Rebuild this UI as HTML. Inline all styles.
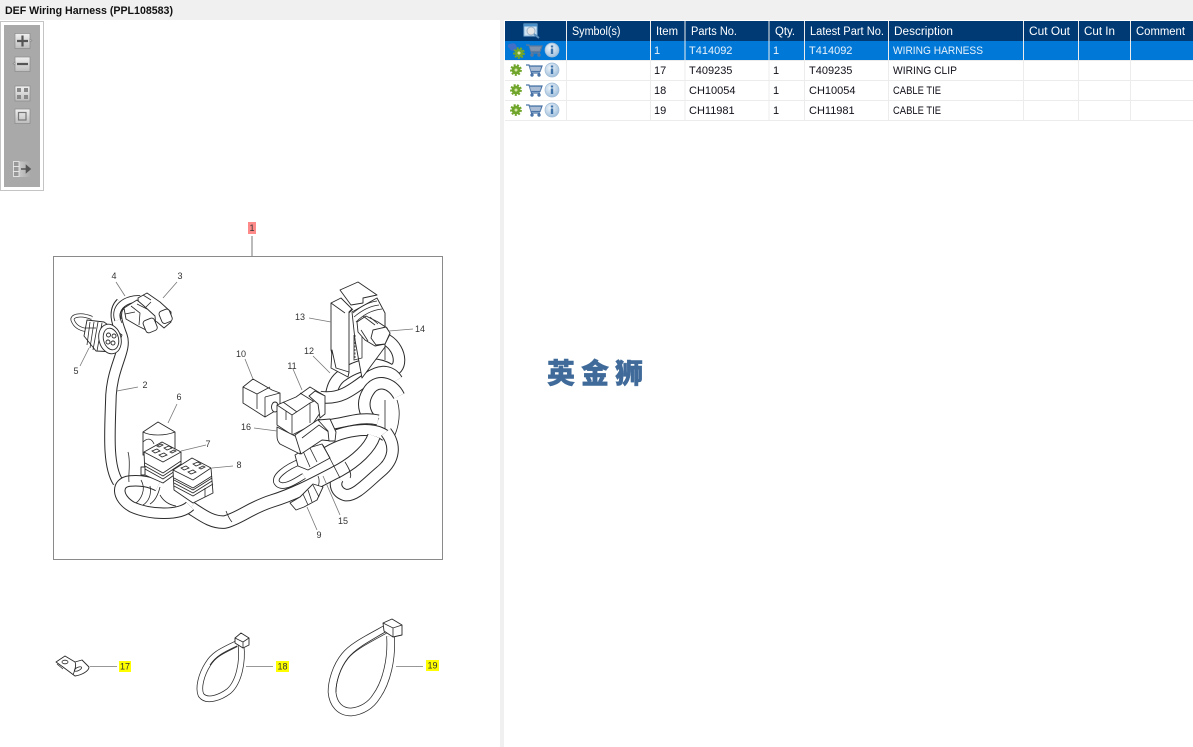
<!DOCTYPE html>
<html><head><meta charset="utf-8"><title>DEF Wiring Harness</title>
<style>
html,body{margin:0;padding:0;background:#fff;width:1193px;height:747px;overflow:hidden}
svg{display:block;position:absolute;left:0;top:0}
.t{font-family:"Liberation Sans",sans-serif;font-size:11px;fill:#10101a}
.h{font-family:"Liberation Sans",sans-serif;font-size:11.5px;fill:#fff}
.w{fill:#e8f2fb}
.n{font-family:"Liberation Sans",sans-serif;font-size:9px;fill:#333;text-anchor:middle}
.o{fill:none;stroke:#2a2a2a;stroke-linejoin:round;stroke-linecap:butt}
.i{fill:none;stroke:#fff;stroke-linejoin:round;stroke-linecap:butt}
.s{fill:#fff;stroke:#2a2a2a;stroke-width:.9;stroke-linejoin:round}
.l{fill:none;stroke:#2a2a2a;stroke-width:.8}
.g{fill:none;stroke:#777;stroke-width:.8}
.soft{filter:blur(.3px)}
</style></head><body>
<svg width="1193" height="747" viewBox="0 0 1193 747" xmlns="http://www.w3.org/2000/svg">
<defs>
<linearGradient id="bt" x1="0" y1="0" x2="0" y2="1"><stop offset="0" stop-color="#f0f0f0"/><stop offset="1" stop-color="#bdbdbd"/></linearGradient>
<linearGradient id="fd" x1="0" y1="0" x2="1" y2="0"><stop offset="0" stop-color="#d8d8d8"/><stop offset="1" stop-color="#a9a9a9"/></linearGradient>
<radialGradient id="ib" cx=".4" cy=".35" r=".8"><stop offset="0" stop-color="#f2f7fb"/><stop offset="1" stop-color="#8fb4d6"/></radialGradient>
<g id="gear"><circle r="4.400" fill="#6fa52a"/><circle r="5" fill="none" stroke="#6fa52a" stroke-width="1.800" stroke-dasharray="2 1.500"/><circle r="1.500" fill="#d4e6a8"/></g>
<g id="cart" fill="none" stroke="#4a74a8" stroke-width="1.200"><path d="M-8 -5H-5L-2.500 3H6"/><path d="M-4.500 -4H8L6 1.500H-3" fill="#8fa9c8"/><path d="M-3.500 -2H7M-3 0H6.500" stroke="#fff" stroke-width=".6"/><circle cx="-2" cy="5" r="1.100" fill="#4a74a8"/><circle cx="5" cy="5" r="1.100" fill="#4a74a8"/></g>
<g id="info"><circle r="7" fill="url(#ib)" stroke="#9dbad6" stroke-width=".7"/><rect x="-1.200" y="-1.500" width="2.400" height="5.500" fill="#3f74ab"/><rect x="-1.200" y="-4.500" width="2.400" height="2" fill="#3f74ab"/></g>
</defs>

<!-- chrome -->
<rect x="0" y="0" width="1193" height="20" fill="#f0f0f0"/>
<rect x="500" y="20" width="4" height="727" fill="#f0f0f0"/>
<text x="5" y="14" font-family="Liberation Sans,sans-serif" font-size="11" font-weight="bold" fill="#111" textLength="168" lengthAdjust="spacingAndGlyphs">DEF Wiring Harness (PPL108583)</text>

<!-- toolbar -->
<rect x="0.500" y="21.500" width="43" height="169" fill="#fff" stroke="#c4c4c4"/>
<rect x="4" y="25" width="36" height="162" fill="#a9a9a9"/>
<g stroke="#8a8a8a" stroke-width=".7" fill="url(#bt)">
<rect x="15" y="33.500" width="15" height="15"/><path d="M30 39l2 1.500-2 1.500z"/>
<rect x="15" y="57" width="15" height="14.500"/><path d="M15 62l-2 1.500 2 1.500z"/>
<rect x="15" y="86" width="15" height="15"/>
<rect x="15" y="109" width="15" height="14.500"/>
</g>
<path d="M17 41h11M22.500 35.500v11" stroke="#555" stroke-width="2.200" fill="none"/>
<path d="M17 64h11" stroke="#555" stroke-width="2.200" fill="none"/>
<g fill="#888"><rect x="17" y="88" width="4" height="4"/><rect x="24" y="88" width="4" height="4"/><rect x="17" y="95" width="4" height="4"/><rect x="24" y="95" width="4" height="4"/></g>
<rect x="18.500" y="112.500" width="7.500" height="7.500" fill="none" stroke="#777" stroke-width="1.200"/>
<rect x="13.500" y="161.500" width="17" height="15.500" fill="url(#fd)" stroke="none"/>
<g stroke="#eee" fill="#999" stroke-width=".8"><rect x="13.500" y="161.500" width="5.500" height="5"/><rect x="13.500" y="166.500" width="5.500" height="5"/><rect x="13.500" y="171.500" width="5.500" height="5"/></g>
<path d="M21 169h6M26.500 166l3.500 3-3.500 3z" stroke="#555" stroke-width="1.600" fill="#555"/>

<!-- table -->
<rect x="505" y="21" width="688" height="20" fill="#003a75"/>
<rect x="505" y="41" width="688" height="19" fill="#0078d7"/>
<path d="M505 60.500H1193M505 80.500H1193M505 100.500H1193M505 120.500H1193" stroke="#ececec" fill="none"/>
<path d="M566.500 21V120M650.500 21V120M685 21V120M769 21V120M804.500 21V120M888.500 21V120M1023.500 21V120M1078.500 21V120M1130.500 21V120" stroke="#ececec" fill="none"/>
<g>
<text class="h" x="572" y="35" textLength="48.500" lengthAdjust="spacingAndGlyphs">Symbol(s)</text>
<text class="h" x="656" y="35" textLength="22" lengthAdjust="spacingAndGlyphs">Item</text>
<text class="h" x="691" y="35" textLength="46" lengthAdjust="spacingAndGlyphs">Parts No.</text>
<text class="h" x="775" y="35" textLength="20" lengthAdjust="spacingAndGlyphs">Qty.</text>
<text class="h" x="810" y="35" textLength="74" lengthAdjust="spacingAndGlyphs">Latest Part No.</text>
<text class="h" x="894" y="35" textLength="59" lengthAdjust="spacingAndGlyphs">Description</text>
<text class="h" x="1029" y="35" textLength="41" lengthAdjust="spacingAndGlyphs">Cut Out</text>
<text class="h" x="1084" y="35" textLength="31" lengthAdjust="spacingAndGlyphs">Cut In</text>
<text class="h" x="1136" y="35" textLength="49" lengthAdjust="spacingAndGlyphs">Comment</text>
</g>
<g>
<rect x="524" y="24" width="13" height="12" fill="#cfe3f3" stroke="#7fb0d8"/><rect x="524" y="24" width="13" height="2.500" fill="#4a90c8"/>
<circle cx="531" cy="31" r="4" fill="#e5e5e5" stroke="#9fb5c8"/><path d="M534 34l5 4" stroke="#5d8fbd" stroke-width="1.800"/>
</g>
<!-- row text -->
<g>
<text class="t w" x="654" y="54">1</text><text class="t w" x="689" y="54">T414092</text><text class="t w" x="773" y="54">1</text><text class="t w" x="809" y="54">T414092</text><text class="t w" x="893" y="54" textLength="90" lengthAdjust="spacingAndGlyphs">WIRING HARNESS</text>
<text class="t" x="654" y="74">17</text><text class="t" x="689" y="74">T409235</text><text class="t" x="773" y="74">1</text><text class="t" x="809" y="74">T409235</text><text class="t" x="893" y="74" textLength="64" lengthAdjust="spacingAndGlyphs">WIRING CLIP</text>
<text class="t" x="654" y="94">18</text><text class="t" x="689" y="94">CH10054</text><text class="t" x="773" y="94">1</text><text class="t" x="809" y="94">CH10054</text><text class="t" x="893" y="94" textLength="48" lengthAdjust="spacingAndGlyphs">CABLE TIE</text>
<text class="t" x="654" y="114">19</text><text class="t" x="689" y="114">CH11981</text><text class="t" x="773" y="114">1</text><text class="t" x="809" y="114">CH11981</text><text class="t" x="893" y="114" textLength="48" lengthAdjust="spacingAndGlyphs">CABLE TIE</text>
</g>
<!-- row icons -->
<circle cx="513" cy="47" r="3.800" fill="#3f6fc8"/><circle cx="510" cy="46" r="2.200" fill="#3f6fc8"/><use href="#gear" x="519" y="53"/>
<g transform="translate(534 50)" fill="none" stroke="#5f7a9c" stroke-width="1.200"><path d="M-8 -5H-5L-2.500 3H6"/><path d="M-4.500 -4H8L6 1.500H-3" fill="#7f93ad"/><circle cx="-2" cy="5" r="1.100" fill="#44597a"/><circle cx="5" cy="5" r="1.100" fill="#44597a"/></g>
<use href="#info" x="552" y="50"/>
<use href="#gear" x="516" y="70"/><use href="#cart" x="534" y="70"/><use href="#info" x="552" y="70"/>
<use href="#gear" x="516" y="90"/><use href="#cart" x="534" y="90"/><use href="#info" x="552" y="90"/>
<use href="#gear" x="516" y="110"/><use href="#cart" x="534" y="110"/><use href="#info" x="552" y="110"/>

<!-- watermark -->
<text x="547" y="383" font-family="Liberation Sans,Noto Sans CJK SC,sans-serif" font-size="28" font-weight="900" fill="#3f6a99" stroke="#3f6a99" stroke-width=".4" letter-spacing="6">英金狮</text>

<!-- diagram frame -->
<rect x="53.500" y="256.500" width="389" height="303" fill="#fff" stroke="#8a8a8a"/>
<path d="M252 236V256" stroke="#777" fill="none"/>
<rect x="248" y="222" width="8" height="12" fill="#ff8a8a"/>
<text class="n" x="252" y="231" fill="#222">1</text>

<g class="soft">
<!-- back tubes -->
<path class="o" stroke-width="11.500" d="M121 303C112 312 118 325 122 336C127 350 113 365 111 395C110 430 107 465 118 482"/>
<path class="i" stroke-width="9.500" d="M121 303C112 312 118 325 122 336C127 350 113 365 111 395C110 430 107 465 118 482"/>
<path class="o" stroke-width="7.500" d="M118 320C113 306 128 298 140 299"/><path class="i" stroke-width="5.800" d="M118 320C113 306 128 298 140 299"/>
<path class="l" d="M122 323C118 315 120 311 124 309"/>
<path class="o" stroke-width="4" d="M92 318C80 313 70 316 73 321C75 326 80 329 86 330"/><path class="i" stroke-width="2.500" d="M92 318C80 313 70 316 73 321C75 326 80 329 86 330"/>

<!-- right-hand upper tangle -->
<path class="l" d="M385 313V360M385 400V440M397 400C402 415 398 435 388 445"/>
<path class="o" stroke-width="12.500" d="M387 340C403 350 402 372 390 370C378 362 360 362 340 377C332 384 332 392 330 400"/><path class="i" stroke-width="10.500" d="M387 340C403 350 402 372 390 370C378 362 360 362 340 377C332 384 332 392 330 400"/>
<path class="o" stroke-width="12.500" d="M320 397C340 400 352 390 368 378C382 368 392 372 397 380"/><path class="i" stroke-width="10.500" d="M320 397C340 400 352 390 368 378C382 368 392 372 397 380"/>
<path class="o" stroke-width="12.500" d="M399 396C392 382 376 378 368 392C360 405 366 418 376 424"/><path class="i" stroke-width="10.500" d="M399 396C392 382 376 378 368 392C360 405 366 418 376 424"/>
<path class="o" stroke-width="11" d="M320 425C338 426 358 415 378 420"/><path class="i" stroke-width="9" d="M320 425C338 426 358 415 378 420"/>
<path class="o" stroke-width="12" d="M318 445C340 430 372 425 386 436"/><path class="i" stroke-width="10" d="M318 445C340 430 372 425 386 436"/>
<path class="o" stroke-width="12.500" d="M386 432C396 445 395 460 380 472C368 482 355 497 345 495C336 492 334 484 338 478"/><path class="i" stroke-width="10.500" d="M386 432C396 445 395 460 380 472C368 482 355 497 345 495C336 492 334 484 338 478"/>

<!-- main cable -->
<path class="o" stroke-width="13.500" d="M191 508C202 515 212 523 225 522C240 518 250 508 272 501C295 494 315 483 340 470C356 461 370 448 374 436"/>
<path class="i" stroke-width="11.500" d="M191 508C202 515 212 523 225 522C240 518 250 508 272 501C295 494 315 483 340 470C356 461 370 448 374 436"/>
<path class="l" d="M226 511C228 516 230 520 232 522M318 476C320 480 319 486 317 488M345 462C350 470 352 475 350 478"/>
<!-- small loop -->
<path class="o" stroke-width="6.500" d="M302 461C286 467 271 478 278 484C284 489 296 481 304 476"/><path class="i" stroke-width="4.800" d="M302 461C286 467 271 478 278 484C284 489 296 481 304 476"/>
<path class="s" d="M295 455L305 449L322 444L330 458L308 470L298 466Z"/><path class="l" d="M303 451L310 467M310 448L317 462M323 445L340 478"/>

<!-- bottom-left loop -->
<path class="o" stroke-width="11.500" d="M190 506C180 516 150 515 132 507C116 498 116 482 130 481C142 480 150 482 158 486"/>
<path class="i" stroke-width="9.500" d="M190 506C180 516 150 515 132 507C116 498 116 482 130 481C142 480 150 482 158 486"/>
<path class="l" d="M141 480C147 490 140 500 136 503M150 486C152 495 148 502 143 505M128 452C131 462 128 475 129 482M160 487C158 495 155 501 150 504M160 495C164 502 170 505 176 506"/>

<!-- relay 6 -->
<path class="s" d="M143 432L158 422L175 432V455H143Z"/><path class="l" d="M143 432C150 436 165 436 175 432M143 442C148 437 152 439 154 444"/>
<!-- relay 7 -->
<path class="s" d="M144 452L162 442L181 452V470L163 483L145 475Z"/>
<path class="l" d="M144 452L163 462L181 452M145 463L163 473L181 461M145 466L163 476L181 464M145 469L163 479L181 467"/>
<g class="l"><path d="M152 451l5 -2 3 2 -5 2zM159 455l5 -2 3 2 -5 2zM164 448l5 -2 3 2 -5 2zM170 452l4 -2 2 1 -4 2zM157 446l4 -2 2 1 -4 2z"/></g>
<rect x="141" y="467" width="4" height="8" class="s"/>
<!-- relay 8 -->
<path class="s" d="M173 470L192 458L211 468L213 493L193 503L174 490Z"/>
<path class="l" d="M173 470L193 480L211 468M174 480L193 490L212 478M174 483L193 493L212 481M174 486L193 496L213 484M174 478L193 488L212 476M205 488V497"/>
<g class="l"><path d="M181 468l5 -2 3 2 -5 2zM188 472l5 -2 3 2 -5 2zM193 464l5 -2 3 2 -5 2zM199 468l4 -2 2 1 -4 2z"/></g>

<!-- connector 9 -->
<path class="s" d="M290 503L296 510L304 507L317 500L323 487L313 484L300 497Z"/><path class="l" d="M303 494L308 505M308 490L312 502M313 485L319 497"/>

<!-- connector 5 -->
<path class="s" d="M87 320L104 322L122 335L116 352L96 351L84 336Z"/>
<path class="l" d="M90 322L87 345M94 322L90 348M98 322L93 350M102 323L97 351M85 328L96 328"/>
<ellipse cx="110" cy="339" rx="11" ry="15" transform="rotate(-15 110 339)" class="s"/>
<ellipse cx="111" cy="339" rx="7.500" ry="11" transform="rotate(-15 111 339)" class="s"/>
<g class="s"><circle cx="108.500" cy="335" r="2"/><circle cx="114" cy="336" r="2"/><circle cx="108" cy="342" r="2"/><circle cx="113" cy="343" r="2"/></g>

<!-- connectors 3/4 -->
<path class="s" d="M138 298L147 293L160 302L171 312L171 322L164 328L157 322L139 312Z"/>
<rect x="160" y="310" width="11" height="13" rx="3" transform="rotate(-22 165 316)" class="s"/>
<path class="l" d="M143 295L151 300M151 302L146 307"/>
<path class="s" d="M124 308L137 300L144 306L155 316L156 328L150 332L138 326L126 319Z"/>
<rect x="144" y="319" width="12" height="13" rx="3" transform="rotate(-22 150 325)" class="s"/>
<path class="l" d="M131 306L140 313L139 325M125 314L135 312M137 304L147 309"/>

<!-- bracket 13 -->
<path class="s" d="M377 298L385 313V347L362 378L355 340L352 312Z"/>
<path class="s" d="M340 290L358 282L377 295L363 298L363 303L351 305Z"/>
<path class="l" d="M353 313C360 307 368 302 377 301M354 317C361 311 370 306 379 305M356 322C363 315 372 310 382 309"/>
<path class="s" d="M331 303L341 298L352 309L349 312V373L336 370L331 350Z"/>
<path class="l" d="M331 303L345 313M349 313L353 309M354 335V360L362 358V335"/>
<path class="l" stroke-dasharray="2 1.500" d="M355 335V360"/>
<path class="s" d="M332 350L331 368L348 377L349 372L336 368Z"/>
<!-- connector 14 -->
<path class="s" d="M357 322L366 316L378 322L387 328L390 334L385 344L375 346L365 340L358 332Z"/>
<path class="s" d="M373 330L386 327L390 333L385 344L376 345L371 338Z"/>
<path class="l" d="M363 316L375 325M370 317L378 324M361 330L368 341"/>

<!-- connector 10 -->
<path class="s" d="M243 387L253 379L272 390L280 393V408L265 417L243 403Z"/>
<path class="l" d="M243 387L257 394L270 387M257 394V409M265 397V417M265 397L280 393"/>
<ellipse cx="275" cy="407" rx="3.500" ry="5" class="s"/>
<!-- connector 11 -->
<path class="s" d="M277 405L296 397L310 387L325 396L322 410L312 425L292 435L277 425Z"/>
<path class="l" d="M277 405L292 415L310 403L325 396M292 415V435M310 403V423M283 402L297 412M300 393L313 401M286 411V420"/>
<path class="s" d="M315 391L325 396V414L320 418L318 404L309 396Z"/>
<!-- connector 16 -->
<path class="s" d="M277 427L295 436L302 438L300 454L280 444C278 442 277 440 277 436Z"/>
<path class="s" d="M295 435L319 419L333 431L332 441L322 440L301 454Z"/>
<path class="l" d="M302 438L319 425L330 433"/>
<path class="s" d="M318 420L330 419L336 432L335 441L329 441L328 431Z"/>

<!-- leaders -->
<g class="g">
<path d="M177 282L163 298M116 282L125 296M80 366L89 348M138 387L117 391M177 404L168 423M206 445L181 451M233 466L212 468M317 530L307 507M245 359L253 379M293 369L302 390M313 356L330 373M309 318L331 322M413 329L389 331M340 515L323 476M254 428L277 431"/>
</g>

<!-- part 17 -->
<path class="s" d="M56 662L65 656L75 662L82 660L89 667C89 671 82 675 75 676L63 667Z"/>
<ellipse cx="65" cy="662" rx="3" ry="1.800" class="l"/><ellipse cx="78" cy="669" rx="4" ry="1.600" transform="rotate(-25 78 669)" class="l"/>
<path class="l" d="M57 664L63 669M75 662C77 666 74 672 73 675"/>
<path class="g" d="M90 666.500H117M246 666.500H273M396 666.500H423"/>

<!-- part 18 -->
<path class="o" stroke-width="6.500" d="M236 644C222 651 214 654 208 664C201 675 198 688 201 695C207 703 221 697 229 691C239 682 243 662 241 645"/>
<path class="i" stroke-width="5" d="M236 644C222 651 214 654 208 664C201 675 198 688 201 695C207 703 221 697 229 691C239 682 243 662 241 645"/>
<path class="l" stroke-width=".5" d="M237 646C224 652 216 656 210 665"/>
<path class="s" d="M235 638L241 633L249 638V645L243 648L235 643Z"/><path class="l" d="M235 638L243 642L249 638M243 642V648"/>

<!-- part 19 -->
<path class="o" stroke-width="8.500" d="M386 629C366 640 352 647 345 656C336 667 332 682 332 692C333 704 340 712 351 712C362 711 371 705 376 697C387 682 392 658 390.500 636"/>
<path class="i" stroke-width="7" d="M386 629C366 640 352 647 345 656C336 667 332 682 332 692C333 704 340 712 351 712C362 711 371 705 376 697C387 682 392 658 390.500 636"/>
<path class="l" stroke-width=".5" d="M387 631C368 642 355 649 348 658C340 668 336 682 336 692"/>
<path class="s" d="M383 623L392 619L402 625V635L393 637L384 631Z"/><path class="l" d="M383 623L393 628L402 625M393 628V637"/>
</g>

<g>
<text class="n" x="180" y="279">3</text><text class="n" x="114" y="279">4</text><text class="n" x="76" y="374">5</text><text class="n" x="145" y="388">2</text><text class="n" x="179" y="400">6</text><text class="n" x="208" y="447">7</text><text class="n" x="239" y="468">8</text><text class="n" x="319" y="538">9</text><text class="n" x="241" y="357">10</text><text class="n" x="292" y="369">11</text><text class="n" x="309" y="354">12</text><text class="n" x="300" y="320">13</text><text class="n" x="420" y="332">14</text><text class="n" x="343" y="524">15</text><text class="n" x="246" y="430">16</text>
</g>
<rect x="119" y="661" width="12" height="11" fill="#ffff00"/><text class="n" x="125" y="669.500">17</text>
<rect x="276" y="661" width="13" height="11" fill="#ffff00"/><text class="n" x="282.500" y="669.500">18</text>
<rect x="426" y="660" width="13" height="11" fill="#ffff00"/><text class="n" x="432.500" y="668.500">19</text>
</svg>
</body></html>
